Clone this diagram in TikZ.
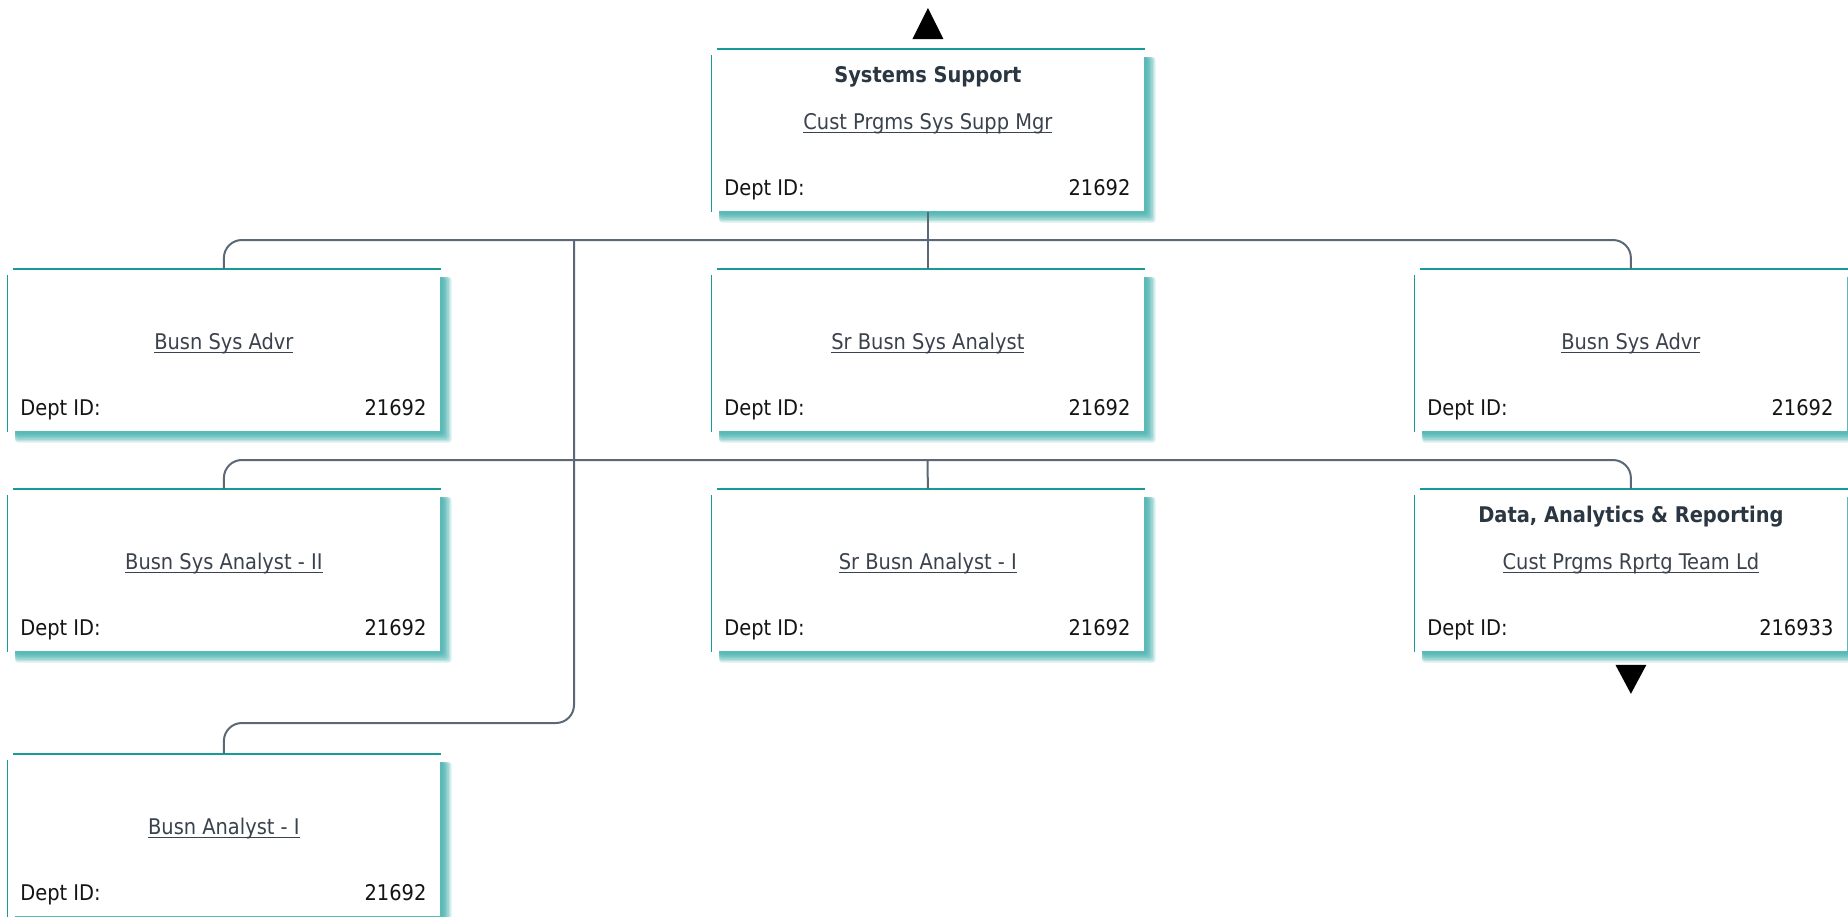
\documentclass[tikz,border=0pt]{standalone}
\usepackage{fontspec}
\setmainfont{DejaVu Sans Condensed}
\usetikzlibrary{backgrounds,calc}

\definecolor{cardteal}{RGB}{22,156,152}
\definecolor{linkgray}{RGB}{58,66,77}
\definecolor{headgray}{RGB}{42,54,66}
\definecolor{deptblack}{RGB}{20,20,20}
\definecolor{wirecol}{RGB}{92,104,120}

% underlined job title, the rule running through the descenders
\newcommand\jobtitle[1]{\setbox0=\hbox{#1}\leavevmode\rlap{\color{linkgray}\vrule height -1.6pt depth 2.2pt width \wd0}\box0}

\tikzset{
  card/.style={rectangle, fill=white, minimum width=216.5pt, minimum height=81pt,
               inner sep=0pt, anchor=north west},
  headtxt/.style={font=\bfseries\fontsize{10.8}{12}\selectfont, text=headgray,
                  inner sep=0pt, anchor=base},
  jobtxt/.style={font=\fontsize{10.8}{12}\selectfont, text=linkgray,
                 inner sep=0pt, anchor=base},
  depttxt/.style={font=\fontsize{10.8}{12}\selectfont, text=deptblack, inner sep=0pt},
  wire/.style={draw=wirecol, line width=1pt, rounded corners=9pt},
  marker/.style={fill=black}
}

% \card{name}{left x}{top y}{unit heading}{job title}{dept id}
\newcommand\card[6]{%
  \node[card] (#1) at (#2,#3) {};
  \begin{scope}[on background layer]
    % soft glow: stacked translucent layers fading outwards
    \foreach \d in {0,0.7,1.4,2.1,2.8,3.5,4.2}{
      \fill[cardteal, opacity=0.16, rounded corners=1.5pt] ($(#1.north west)+(4pt,-4pt)$)
        rectangle ($(#1.south east)+(1.2pt+\d pt,-1.2pt-\d pt)$);
    }
  \end{scope}
  \draw[cardteal, line width=1pt] ([xshift=3pt]#1.north west) -- (#1.north east);
  \draw[cardteal, line width=0.5pt] ([yshift=-3pt]#1.north west) -- (#1.south west);
  \if\relax\detokenize{#4}\relax\else
    \node[headtxt] (#1-head) at ([yshift=-16.5pt]#1.north) {#4};
  \fi
  \node[jobtxt] (#1-job) at ([yshift=-40pt]#1.north) {\jobtitle{#5}};
  \node[depttxt, anchor=base west] (#1-label) at ([xshift=6.5pt,yshift=-73pt]#1.north west) {Dept ID:};
  \node[depttxt, anchor=base east] (#1-id) at ([xshift=-7pt,yshift=-73pt]#1.north east) {#6};
}

\begin{document}
\begin{tikzpicture}[x=0.5pt, y=-0.5pt]
  \useasboundingbox (0,0) rectangle (1848,916);

  % cards
  \card{top}{711}{49}{Systems Support}{Cust Prgms Sys Supp Mgr}{21692}
  \card{b1}{7}{269}{}{Busn Sys Advr}{21692}
  \card{b2}{711}{269}{}{Sr Busn Sys Analyst}{21692}
  \card{b3}{1414}{269}{}{Busn Sys Advr}{21692}
  \card{c1}{7}{489}{}{Busn Sys Analyst - II}{21692}
  \card{c2}{711}{489}{}{Sr Busn Analyst - I}{21692}
  \card{c3}{1414}{489}{Data, Analytics \& Reporting}{Cust Prgms Rprtg Team Ld}{216933}
  \card{d1}{7}{754}{}{Busn Analyst - I}{21692}

  % bus points
  \coordinate (bus1) at (927.5,240);
  \coordinate (bus2) at (927.5,460);
  \coordinate (trunk) at (574,240);
  \coordinate (trunkbot) at (574,723);

  % connectors
  \draw[wire] (top.south) -- (b2.north);
  \draw[wire] (b1.north) |- (bus1) -| (b3.north);
  \draw[wire] (c1.north) |- (bus2) -| (c3.north);
  \draw[wire] (bus2) -- (c2.north);
  \draw[wire] (trunk) -- (trunkbot) -| (d1.north);

  % navigation markers
  \fill[marker] ([xshift=-7.75pt,yshift=5pt]top.north) -- ([xshift=7.75pt,yshift=5pt]top.north)
    -- ([yshift=20.5pt]top.north) -- cycle;
  \fill[marker] ([xshift=-7.75pt,yshift=-6.5pt]c3.south) -- ([xshift=7.75pt,yshift=-6.5pt]c3.south)
    -- ([yshift=-21pt]c3.south) -- cycle;
\end{tikzpicture}
\end{document}
